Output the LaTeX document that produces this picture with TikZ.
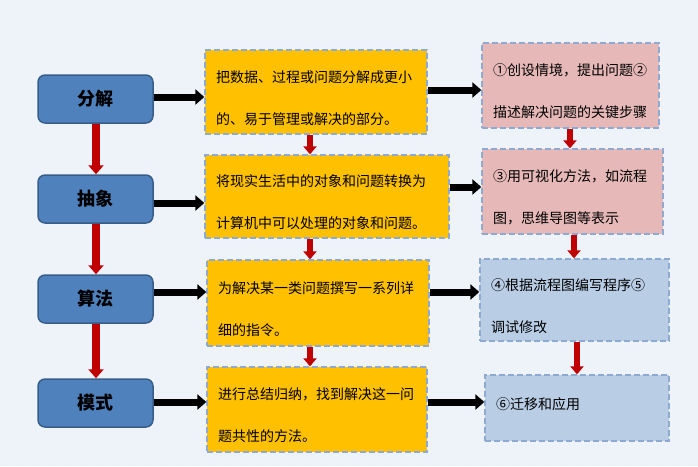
\documentclass[tikz,border=0pt]{standalone}
\usepackage{fontspec}
\setmainfont{Noto Sans CJK SC}
\usetikzlibrary{arrows.meta,positioning}

\definecolor{bgc}{HTML}{EEF3FA}
\definecolor{stagefill}{HTML}{4F81BD}
\definecolor{stageline}{HTML}{385D8A}
\definecolor{noteyellow}{HTML}{FFC000}
\definecolor{notepink}{HTML}{E6B9B8}
\definecolor{noteblue}{HTML}{B9CDE5}
\definecolor{dashline}{HTML}{8EA9D2}
\definecolor{arrowred}{HTML}{C00000}

\begin{document}
\begin{tikzpicture}[x=1pt, y=-1pt, >=Latex]

\tikzset{
  stage/.style={
    rectangle, rounded corners=2.5mm,
    draw=stageline, line width=1.5pt, fill=stagefill,
    minimum width=115pt, minimum height=48pt,
    font=\fontsize{18}{20}\selectfont\bfseries
  },
  note/.style={
    rectangle, draw=dashline, line width=1.3pt,
    dash pattern=on 6pt off 3pt, align=left,
    inner xsep=11pt, inner ysep=2pt,
    font=\fontsize{14}{42}\selectfont
  },
  twoline/.style={execute at begin node={\rule{0pt}{24pt}}},
  oneline/.style={execute at end node={\rule[-8pt]{0pt}{8pt}}},
  blackarrow/.style={line width=7pt, -{Triangle[length=9pt,width=15pt]}},
  redarrow/.style={draw=arrowred, line width=6pt, -{Triangle[length=8pt,width=13pt]}},
  bigredarrow/.style={draw=arrowred, line width=8pt, -{Triangle[length=9pt,width=15pt]}}
}

% background
\fill[bgc] (0,0) rectangle (698,466);
\useasboundingbox (0,0) rectangle (698,466);

% ==========================
% Left column: stages
% ==========================
\node[stage] (decomp) at (95.5,99) {分解};
\node[stage] (abstr) at (95.5,199) {抽象};
\node[stage] (algo) at (95.5,299) {算法};
\node[stage] (pattern) at (95.5,403) {模式};

% ==========================
% Middle column: definitions
% ==========================
\node[note, twoline, fill=noteyellow, text width=200pt, minimum height=84pt] (def1) at (316,92)
  {把数据、过程或问题分解成更小\\的、易于管理或解决的部分。};
\node[note, twoline, fill=noteyellow, text width=222pt, minimum height=83pt] (def2) at (327,196.5)
  {将现实生活中的对象和问题转换为\\计算机中可以处理的对象和问题。};
\node[note, twoline, fill=noteyellow, text width=200pt, minimum height=86pt] (def3) at (318,303)
  {为解决某一类问题撰写一系列详\\细的指令。};
\node[note, twoline, fill=noteyellow, text width=198pt, minimum height=85pt] (def4) at (317,409.5)
  {进行总结归纳，找到解决这一问\\题共性的方法。};

% ==========================
% Right column: classroom steps
% ==========================
\node[note, twoline, fill=notepink, text width=155pt, minimum height=85pt] (step1) at (570.5,85.5)
  {①创设情境，提出问题②\\描述解决问题的关键步骤};
\node[note, twoline, fill=notepink, text width=159pt, minimum height=85pt] (step2) at (572.5,191.5)
  {③用可视化方法，如流程\\图，思维导图等表示};
\node[note, twoline, fill=noteblue, text width=167pt, minimum height=82pt] (step3) at (574.5,300)
  {④根据流程图编写程序⑤\\调试修改};
\node[note, oneline, fill=noteblue, text width=162pt, minimum height=66pt] (step4) at (577,408)
  {⑥迁移和应用};

% ==========================
% Horizontal arrows
% ==========================
\draw[blackarrow] (decomp.east |- 0,97) -- (def1.west |- 0,97);
\draw[blackarrow] (abstr.east |- 0,203) -- (def2.west |- 0,203);
\draw[blackarrow] (algo.east |- 0,292) -- (def3.west |- 0,292);
\draw[blackarrow] (pattern.east |- 0,402) -- (def4.west |- 0,402);

\draw[blackarrow] (def1.east |- 0,90) -- (step1.west |- 0,90);
\draw[blackarrow] (def2.east |- 0,187) -- (step2.west |- 0,187);
\draw[blackarrow] (def3.east |- 0,292) -- (step3.west |- 0,292);
\draw[blackarrow] (def4.east |- 0,402) -- (step4.west |- 0,402);

% ==========================
% Vertical arrows
% ==========================
\draw[bigredarrow] (decomp.south -| 96,0) -- (abstr.north -| 96,0);
\draw[bigredarrow] (abstr.south -| 96,0) -- (algo.north -| 96,0);
\draw[bigredarrow] (algo.south -| 96,0) -- (pattern.north -| 96,0);

\draw[redarrow] (def1.south -| 310,0) -- (def2.north -| 310,0);
\draw[redarrow] (def2.south -| 310,0) -- (def3.north -| 310,0);
\draw[redarrow] (def3.south -| 310,0) -- (def4.north -| 310,0);

\draw[redarrow] (step1.south -| 570,0) -- (step2.north -| 570,0);
\draw[redarrow] (step2.south -| 574,0) -- (step3.north -| 574,0);
\draw[redarrow] (step3.south -| 577,0) -- (step4.north -| 577,0);

\end{tikzpicture}
\end{document}
